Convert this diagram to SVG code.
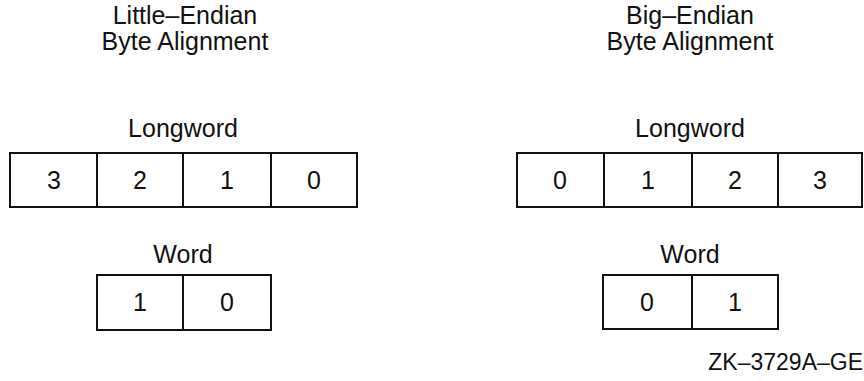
<svg xmlns="http://www.w3.org/2000/svg" width="864" height="381" viewBox="0 0 864 381">
<style>
text{font-family:"Liberation Sans",Arial,sans-serif;font-size:25px;fill:#111;text-anchor:middle}
.box{fill:#fff;stroke:#111;stroke-width:2}
.div{stroke:#111;stroke-width:2}
</style>
<rect width="864" height="381" fill="#fff"/>
<g id="title-little">
<text x="185" y="24">Little–Endian</text>
<text x="185" y="50">Byte Alignment</text>
</g>
<g id="title-big">
<text x="690" y="24">Big–Endian</text>
<text x="690" y="50">Byte Alignment</text>
</g>
<g id="little-longword">
<text x="183" y="137">Longword</text>
<rect class="box" x="10" y="153" width="347" height="54"/>
<line class="div" x1="97" y1="153" x2="97" y2="207"/>
<line class="div" x1="183" y1="153" x2="183" y2="207"/>
<line class="div" x1="271" y1="153" x2="271" y2="207"/>
<text x="54" y="189">3</text>
<text x="140" y="189">2</text>
<text x="227" y="189">1</text>
<text x="314" y="189">0</text>
</g>
<g id="big-longword">
<text x="690" y="137">Longword</text>
<rect class="box" x="517" y="153" width="345" height="54"/>
<line class="div" x1="604" y1="153" x2="604" y2="207"/>
<line class="div" x1="692" y1="153" x2="692" y2="207"/>
<line class="div" x1="778" y1="153" x2="778" y2="207"/>
<text x="560" y="189">0</text>
<text x="648" y="189">1</text>
<text x="735" y="189">2</text>
<text x="820" y="189">3</text>
</g>
<g id="little-word">
<text x="183" y="263">Word</text>
<rect class="box" x="97" y="275" width="174" height="55"/>
<line class="div" x1="183" y1="275" x2="183" y2="330"/>
<text x="140" y="311">1</text>
<text x="227" y="311">0</text>
</g>
<g id="big-word">
<text x="690" y="263">Word</text>
<rect class="box" x="603" y="275" width="175" height="54"/>
<line class="div" x1="692" y1="275" x2="692" y2="329"/>
<text x="647" y="311">0</text>
<text x="735" y="311">1</text>
</g>
<g id="connectors"></g>
<text x="863" y="370" style="font-size:23px;text-anchor:end">ZK–3729A–GE</text>
</svg>
